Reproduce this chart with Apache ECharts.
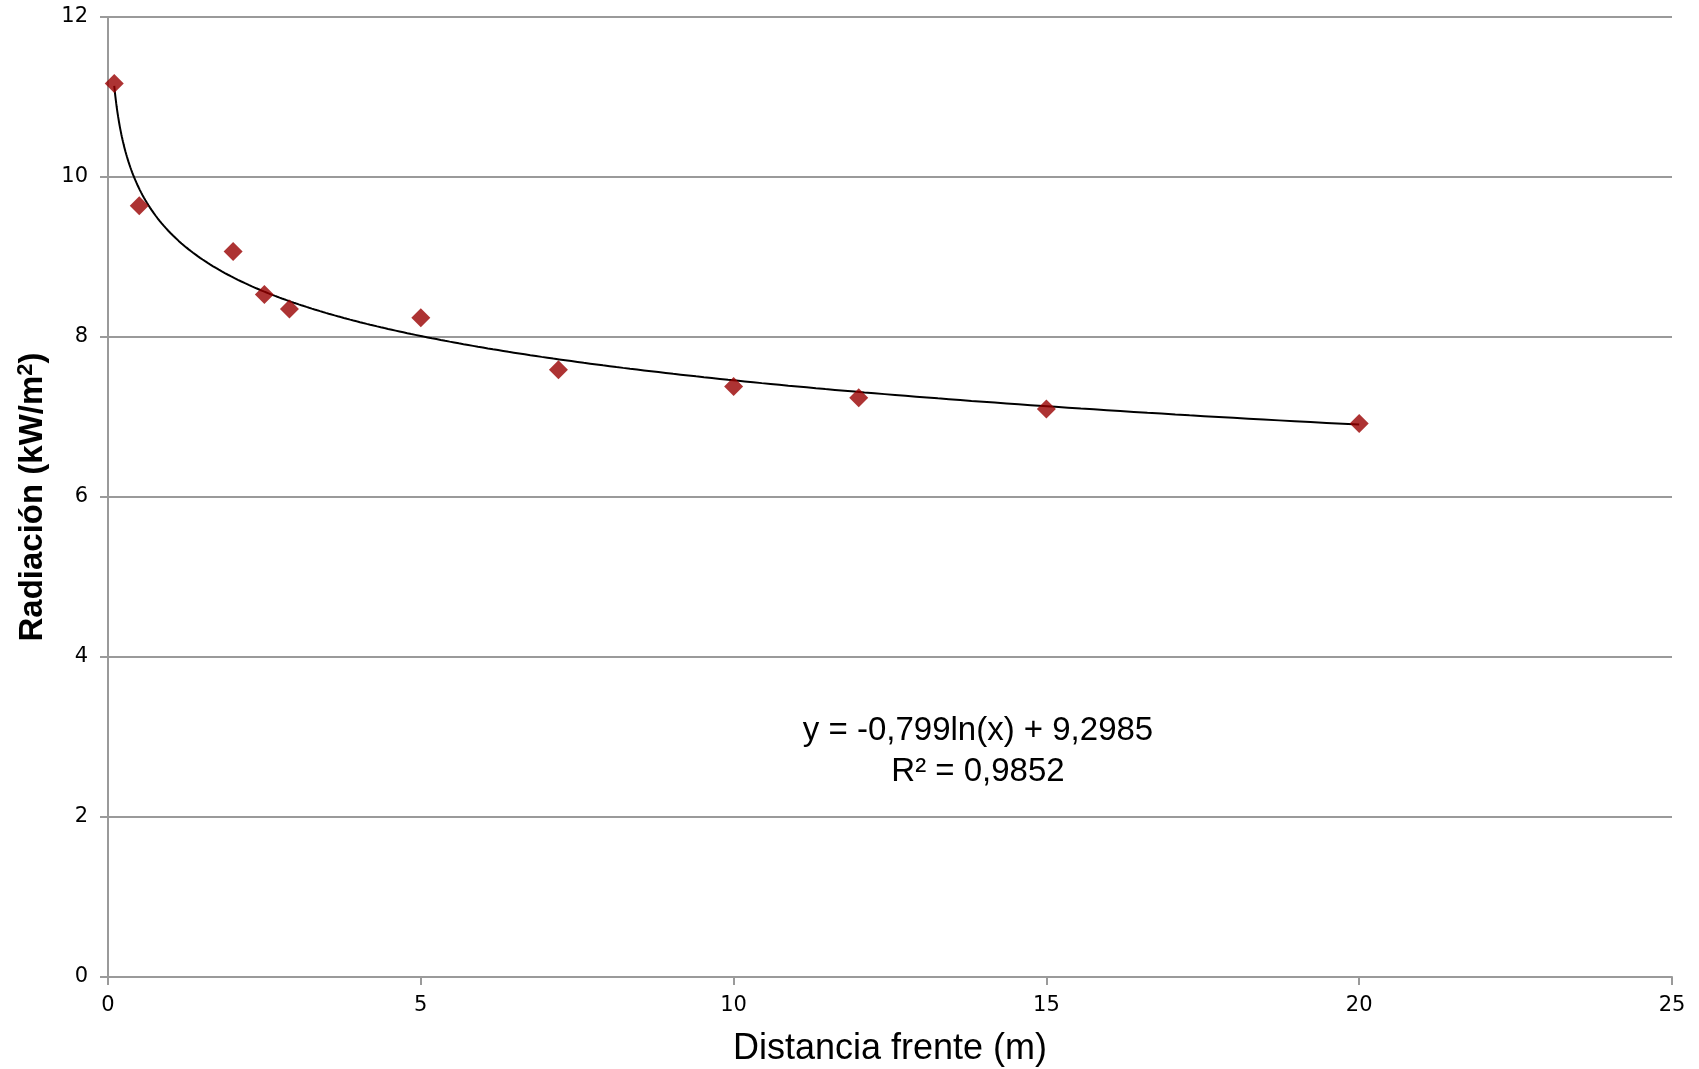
<!DOCTYPE html>
<html lang="es">
<head>
    <meta charset="UTF-8">
    <title>Radiación vs distancia</title>
    <script src="https://cdn.jsdelivr.net/npm/echarts@6/dist/echarts.min.js"></script>
    <style>
        html, body { margin: 0; padding: 0; background: #fff; }
    </style>
</head>
<body>
<div id="main" style="width: 1699px;height:1069px;"></div>
<script type="text/javascript">
    // distancia al frente (m) y radiación medida (kW/m2)
    var distancia = [0.1, 0.5, 2, 2.5, 2.9, 5, 7.2, 10, 12, 15, 20];
    var radiacion = [11.17, 9.64, 9.07, 8.53, 8.35, 8.24, 7.59, 7.38, 7.24, 7.10, 6.92];

    // coeficientes de la línea de tendencia mostrada en el gráfico
    var tendA = -0.799;
    var tendB = 9.2985;
    var xTicks = [0, 5, 10, 15, 20, 25];
    var yTicks = [0, 2, 4, 6, 8, 10, 12];

    var puntos = distancia.map(function (d, i) { return [d, radiacion[i]]; });

    // curva logarítmica y = a ln(x) + b desde el primer hasta el último punto
    var curva = [];
    var x0 = distancia[0], x1 = distancia[distancia.length - 1];
    for (var k = 0; k <= 400; k++) {
        var x = x0 * Math.pow(x1 / x0, k / 400);
        curva.push([x, tendA * Math.log(x) + tendB]);
    }

    var chart = echarts.init(document.getElementById('main'));
    var gris = '#9a9a9a';
    var fuente = '"Liberation Sans", Arial, sans-serif';
    var fuenteTicks = '"DejaVu Sans", Verdana, sans-serif';

    var option = {
        backgroundColor: '#fff',
        animation: false,
        grid: { left: 108, top: 17, right: 27, bottom: 92, containLabel: false, outerBoundsMode: 'none' },
        xAxis: {
            type: 'value',
            min: xTicks[0],
            max: xTicks[xTicks.length - 1],
            interval: 5,
            axisLine: { show: true, lineStyle: { color: gris, width: 2 } },
            axisTick: { show: true, length: 8, lineStyle: { color: gris, width: 2 } },
            axisLabel: { margin: 18, fontFamily: fuenteTicks, fontSize: 21, color: '#000' },
            splitLine: { show: false }
        },
        yAxis: {
            type: 'value',
            min: yTicks[0],
            max: yTicks[yTicks.length - 1],
            interval: 2,
            name: '{t|Radiación (kW/m}{s|2}{t|)}',
            nameLocation: 'middle',
            nameGap: 57,
            nameMoveOverlap: false,
            nameRotate: 90,
            nameTextStyle: {
                rich: {
                    t: { fontFamily: fuente, fontSize: 33, fontWeight: 'bold', color: '#000' },
                    s: { fontFamily: fuente, fontSize: 22, fontWeight: 'bold', color: '#000', verticalAlign: 'top', padding: [0, 0, 14, 0] }
                }
            },
            axisLine: { show: true, lineStyle: { color: gris, width: 2 } },
            axisTick: { show: true, length: 8, lineStyle: { color: gris, width: 2 } },
            axisLabel: { margin: 20, fontFamily: fuenteTicks, fontSize: 21, color: '#000' },
            splitLine: { show: true, lineStyle: { color: gris, width: 2 } }
        },
        series: [
            {
                name: 'Tendencia',
                type: 'line',
                data: curva,
                showSymbol: false,
                smooth: false,
                lineStyle: { color: '#000', width: 2 },
                z: 2
            },
            {
                name: 'Radiación',
                type: 'scatter',
                data: puntos,
                symbol: 'diamond',
                symbolSize: [19, 19],
                itemStyle: { color: '#990000' },
                z: 3
            }
        ],
        graphic: [
            {
                type: 'text',
                x: 978,
                y: 710,
                style: {
                    text: 'y = -0,799ln(x) + 9,2985\nR² = 0,9852',
                    align: 'center',
                    verticalAlign: 'top',
                    fontFamily: fuente,
                    fontSize: 33,
                    lineHeight: 41,
                    fill: '#000'
                }
            },
            {
                // título del eje x
                type: 'text',
                x: 890,
                y: 1049,
                style: {
                    text: 'Distancia frente (m)',
                    align: 'center',
                    verticalAlign: 'middle',
                    fontFamily: fuente,
                    fontSize: 36,
                    fill: '#000'
                }
            }
        ]
    };

    chart.setOption(option);
</script>
</body>
</html>
